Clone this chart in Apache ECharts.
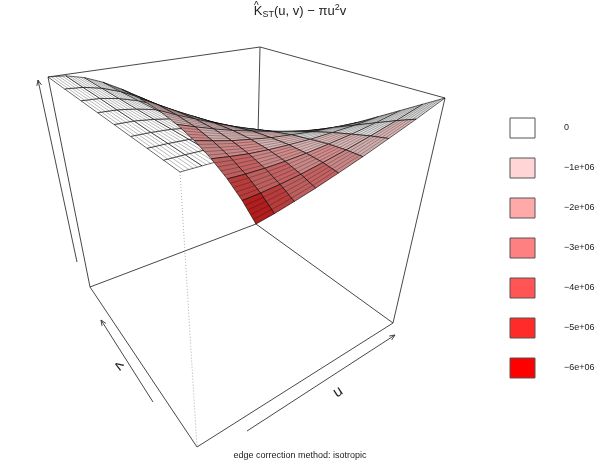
<!DOCTYPE html>
<html>
<head>
<meta charset="utf-8">
<script src="https://cdn.jsdelivr.net/npm/echarts@6/dist/echarts.min.js"></script>
<style>html,body{margin:0;padding:0;background:#fff}#main{width:600px;height:464px}</style>
</head>
<body>
<div id="main"></div>
<script>
// grid of u and v (normalised 0..1), values in units of 1e6
var uVals = [0, 1/12, 2/12, 3/12, 4/12, 5/12, 6/12, 7/12, 8/12, 9/12, 10/12, 11/12, 1];
var vVals = [0, 0.125, 0.25, 0.375, 0.5, 0.625, 0.75, 0.875, 1];
var zRows = [
  [0, 0, 0, 0, 0, 0, 0, 0, 0, 0, 0, 0, 0],
  [0, -.005, -.02, -.05, -.09, -.13, -.19, -.26, -.34, -.44, -.54, -.65, -.78],
  [0, -.01, -.04, -.10, -.17, -.27, -.39, -.53, -.69, -.87, -1.08, -1.30, -1.55],
  [0, -.02, -.06, -.15, -.26, -.40, -.58, -.79, -1.03, -1.31, -1.61, -1.95, -2.33],
  [0, -.02, -.09, -.19, -.34, -.54, -.78, -1.05, -1.38, -1.74, -2.15, -2.60, -3.10],
  [0, -.03, -.11, -.24, -.43, -.67, -.97, -1.32, -1.72, -2.18, -2.69, -3.26, -3.88],
  [0, -.03, -.13, -.29, -.52, -.81, -1.16, -1.58, -2.07, -2.62, -3.23, -3.91, -4.65],
  [0, -.04, -.15, -.34, -.60, -.94, -1.36, -1.84, -2.41, -3.05, -3.77, -4.56, -5.43],
  [0, -.04, -.17, -.39, -.69, -1.08, -1.55, -2.11, -2.76, -3.49, -4.31, -5.21, -6.20]
];
var legendLabels = ['0', '\u22121e+06', '\u22122e+06', '\u22123e+06', '\u22124e+06', '\u22125e+06', '\u22126e+06'];
var legendColors = ['#FFFFFF', '#FFD5D5', '#FFAAAA', '#FF8080', '#FF5555', '#FF2B2B', '#FF0000'];
var zMin = -6.2, zMax = 0;

// box corners on screen
var BF = [197, 447], BR = [393, 323], BL = [90, 287], BB = [256, 224];
var TF = [180, 172], TR = [445, 98], TL = [48, 77], TB = [260, 47];

function bilerp(p00, p10, p01, p11, u, v) {
    return [
        (1 - u) * (1 - v) * p00[0] + u * (1 - v) * p10[0] + (1 - u) * v * p01[0] + u * v * p11[0],
        (1 - u) * (1 - v) * p00[1] + u * (1 - v) * p10[1] + (1 - u) * v * p01[1] + u * v * p11[1]
    ];
}
function project(u, v, zn) {
    var b = bilerp(BF, BR, BL, BB, u, v);
    var t = bilerp(TF, TR, TL, TB, u, v);
    return [b[0] + zn * (t[0] - b[0]), b[1] + zn * (t[1] - b[1])];
}
function zNorm(val) { return (val - zMin) / (zMax - zMin); }

function binColor(val) {
    var k = Math.min(6, Math.max(0, Math.floor(-val)));
    return legendColors[k];
}
function shadeColor(hex, f) {
    var r = parseInt(hex.substr(1, 2), 16), g = parseInt(hex.substr(3, 2), 16), b = parseInt(hex.substr(5, 2), 16);
    return 'rgb(' + Math.round(r * f) + ',' + Math.round(g * f) + ',' + Math.round(b * f) + ')';
}

// cells, farthest first
var cells = [];
for (var j = 0; j < vVals.length - 1; j++) {
    for (var i = 0; i < uVals.length - 1; i++) {
        var mu = (uVals[i] + uVals[i + 1]) / 2, mv = (vVals[j] + vVals[j + 1]) / 2;
        var avg = (zRows[j][i] + zRows[j][i + 1] + zRows[j + 1][i] + zRows[j + 1][i + 1]) / 4;
        cells.push([i, j, (1 - mu) + (1 - mv) + zNorm(avg)]);
    }
}
cells.sort(function (a, b) { return b[2] - a[2]; });

var chart = echarts.init(document.getElementById('main'));

function pline(pts, dashed) {
    return {
        type: 'polyline', silent: true,
        shape: { points: pts },
        style: { stroke: dashed ? '#999' : '#333', lineWidth: dashed ? 0.8 : 0.9, lineDash: dashed ? [1, 2] : null, fill: null }
    };
}
function arrowHead(from, to) {
    var a = Math.atan2(to[1] - from[1], to[0] - from[0]), L = 6, w = 0.4;
    return {
        type: 'polyline', silent: true,
        shape: { points: [[to[0] - L * Math.cos(a - w), to[1] - L * Math.sin(a - w)], to, [to[0] - L * Math.cos(a + w), to[1] - L * Math.sin(a + w)]] },
        style: { stroke: '#333', lineWidth: 0.9, fill: null }
    };
}

var graphics = [
    pline([TL, TB, TR]), pline([BL, BB, BR]), pline([BL, BF, BR]),
    pline([TL, BL]), pline([TR, BR]), pline([TB, BB]), pline([TF, BF], true),
    pline([[77, 262], [38, 80]]), arrowHead([77, 262], [38, 80]),
    pline([[153, 402], [101, 320]]), arrowHead([153, 402], [101, 320]),
    pline([[247, 431], [395, 335]]), arrowHead([247, 431], [395, 335]),
    { type: 'text', x: 119, y: 366, rotation: Math.atan2(82, 52) - Math.PI, style: { text: 'v', fontSize: 15, fill: '#222', align: 'center', verticalAlign: 'middle', fontFamily: 'Liberation Sans' } },
    { type: 'text', x: 338, y: 392, rotation: -Math.atan2(-96, 148), style: { text: 'u', fontSize: 15, fill: '#222', align: 'center', verticalAlign: 'middle', fontFamily: 'Liberation Sans' } },
    {
        type: 'text', left: 'center', top: 3,
        style: {
            text: '{k|K}{s|ST}{n|(u, v) \u2212 \u03c0u}{p|2}{n|v}',
            rich: { k: { fontSize: 13, padding: [6, 0, 0, 0] }, s: { fontSize: 9, padding: [12, 0, 0, 0] }, n: { fontSize: 13, padding: [6, 0, 0, 0] }, p: { fontSize: 9, padding: [0, 0, 2, 0] } },
            fill: '#222', fontFamily: 'Liberation Sans'
        }
    },
    { type: 'text', x: 254, y: 1, style: { text: '^', fontSize: 10, fill: '#222', fontFamily: 'Liberation Sans' } },
    { type: 'text', left: 'center', top: 451, style: { text: 'edge correction method: isotropic', fontSize: 9, fill: '#222', fontFamily: 'Liberation Sans' } }
];
legendLabels.forEach(function (lab, k) {
    var cy = 128 + k * 40;
    graphics.push({ type: 'rect', shape: { x: 510, y: cy - 10, width: 25, height: 20 }, style: { fill: legendColors[k], stroke: '#555', lineWidth: 1 } });
    graphics.push({ type: 'text', x: 564, y: cy, style: { text: lab, fontSize: 9, fill: '#222', verticalAlign: 'middle', fontFamily: 'Liberation Sans' } });
});

var SUB = 5; // hatch lines inside each cell, drawn along v

chart.setOption({
    animation: false,
    grid: { left: 0, right: 0, top: 0, bottom: 0 },
    xAxis: { type: 'value', min: 0, max: 600, show: false },
    yAxis: { type: 'value', min: 0, max: 464, inverse: true, show: false },
    graphic: graphics,
    series: [{
        type: 'custom',
        data: cells,
        z: 10,
        renderItem: function (params, api) {
            var i = api.value(0), j = api.value(1);
            var u0 = uVals[i], u1 = uVals[i + 1], v0 = vVals[j], v1 = vVals[j + 1];
            var z00 = zNorm(zRows[j][i]), z10 = zNorm(zRows[j][i + 1]), z01 = zNorm(zRows[j + 1][i]), z11 = zNorm(zRows[j + 1][i + 1]);
            var pts = [project(u0, v0, z00), project(u1, v0, z10), project(u1, v1, z11), project(u0, v1, z01)]
                .map(function (p) { return api.coord(p); });
            var avg = (zRows[j][i] + zRows[j][i + 1] + zRows[j + 1][i] + zRows[j + 1][i + 1]) / 4;
            var dzdu = (z10 + z11 - z00 - z01) / 2 / (u1 - u0);
            var dzdv = (z01 + z11 - z00 - z10) / 2 / (v1 - v0);
            var shade = 0.45 + 0.55 / Math.sqrt(1 + dzdu * dzdu + dzdv * dzdv);
            var children = [{
                type: 'polygon',
                shape: { points: pts },
                style: { fill: shadeColor(binColor(avg), shade), stroke: '#000', lineWidth: 0.6 }
            }];
            for (var s = 1; s < SUB; s++) {
                var t = s / SUB, uu = u0 + t * (u1 - u0);
                var a = api.coord(project(uu, v0, z00 + t * (z10 - z00)));
                var b = api.coord(project(uu, v1, z01 + t * (z11 - z01)));
                children.push({ type: 'line', shape: { x1: a[0], y1: a[1], x2: b[0], y2: b[1] }, style: { stroke: '#000', lineWidth: 0.35, opacity: 0.8 } });
            }
            return { type: 'group', children: children };
        }
    }]
});
</script>
</body>
</html>
